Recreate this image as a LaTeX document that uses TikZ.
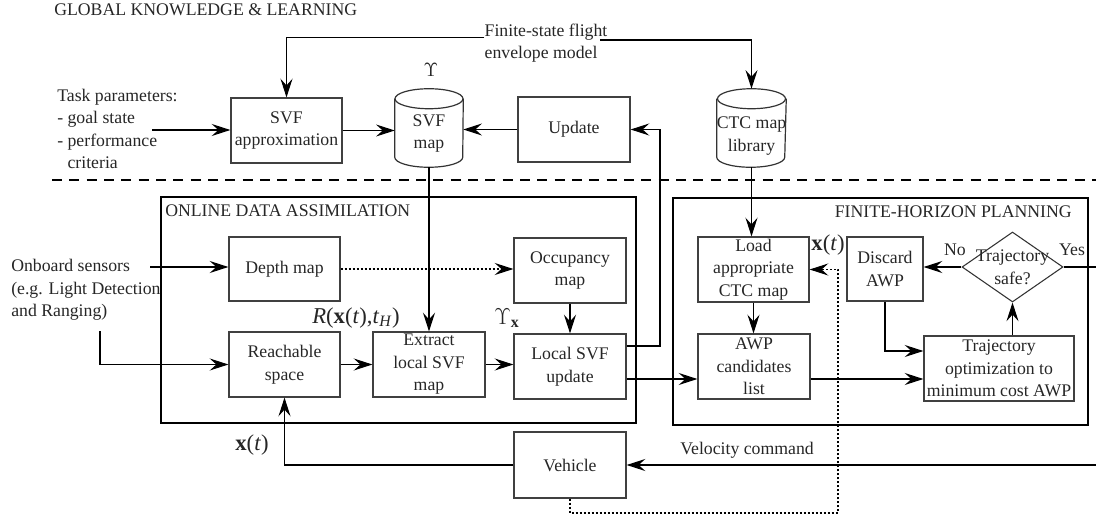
\documentclass[tikz,border=0pt]{standalone}
\usepackage{fontspec}
\setmainfont{Liberation Serif}
\usetikzlibrary{arrows.meta,shapes.geometric,calc}
\newcommand\drawcyl[1]{%
  \draw[line width=0.9pt, draw=black!80] ($(#1.north west)+(0,10)$) -- ($(#1.south west)+(0,-10)$)
     arc[start angle=180, end angle=360, x radius=25.5pt, y radius=7.5pt]
     -- ($(#1.north east)+(0,10)$);
  \draw[line width=0.9pt, draw=black!80] ($(#1.north)+(0,10)$) ellipse [x radius=25.5pt, y radius=7.5pt];}
\newcommand\xt{\textbf{x}(\textit{t})}
\begin{document}
\begin{tikzpicture}[x=0.75pt,y=-0.75pt,
  font=\fontsize{13.3}{16.9}\selectfont,
  txt/.style={text=black!85, inner sep=0pt},
  box/.style={draw=black!75, line width=0.9pt, align=center, inner sep=0pt, text=black!85},
  frm/.style={draw=black, line width=1.6pt},
  arr/.style={-{Stealth[length=14pt,width=9pt,inset=5pt]}, line width=0.8pt},
  dotl/.style={dash pattern=on 1.5pt off 1.5pt},
  big/.style={font=\fontsize{17}{20}\selectfont}]
\useasboundingbox (0,0) rectangle (1096,517);

% titles and separator
\node[txt, anchor=west] (gtitle) at (54,10) {GLOBAL KNOWLEDGE \& LEARNING};
\draw[line width=0.9pt, dash pattern=on 7.5pt off 5.5pt] (52,180) -- (1096,180);

% global part
\node[txt, anchor=west, align=left] (task) at (57,129) {Task parameters:\\- goal state\\- performance\\\hphantom{- }criteria};
\node[box, minimum width=83.25pt, minimum height=48.75pt] (svfa) at (286.5,130.5) {SVF\\approximation};
\node[minimum width=51pt, minimum height=58.5pt, inner sep=0pt,
      label={[txt,align=center,yshift=-4pt]center:SVF\\map}] (svfmap) at (429,128) {};
\drawcyl{svfmap}
\node[txt, font=\fontsize{15.5}{18}\selectfont] (ups) at (431,70) {$\Upsilon$};
\node[box, minimum width=84pt, minimum height=48.75pt] (update) at (574,129.5) {Update};
\node[minimum width=51.75pt, minimum height=58.5pt, inner sep=0pt,
      label={[txt,align=center,yshift=-6pt]center:CTC map\\library}] (ctc) at (751.5,128) {};
\drawcyl{ctc}
\node[txt, align=left] (env) at (546,43) {Finite-state flight\\envelope model};

% frames
\draw[frm] (161,197) rectangle (636,423);
\draw[frm] (673,198) rectangle (1088,425);
\node[txt, anchor=west] (odat) at (165,211) {ONLINE DATA ASSIMILATION};
\node[txt, anchor=east] (fhpt) at (1072,212) {FINITE-HORIZON PLANNING};

% online data assimilation
\node[txt, anchor=west, align=left] (sens) at (11,290) {Onboard sensors\\(e.g. Light Detection\\and Ranging)};
\node[box, minimum width=83.25pt, minimum height=48pt] (depth) at (284.5,269) {Depth map};
\node[box, minimum width=83.25pt, minimum height=48.75pt] (reach) at (284.5,364.5) {Reachable\\space};
\node[box, minimum width=84pt, minimum height=48.75pt] (extract) at (429,364.5) {Extract\\local SVF\\map};
\node[box, minimum width=84pt, minimum height=48.75pt] (occ) at (570,270.5) {Occupancy\\map};
\node[box, minimum width=84pt, minimum height=48.75pt] (local) at (570,366.5) {Local SVF\\update};
\node[txt, big] (rlab) at (356,318) {\textit{R}(\xt,\textit{t}\textsubscript{\textit{H}})};
\node[txt, big] (uxlab) at (507,318) {$\Upsilon_{\mathbf{x}}$};

% finite-horizon planning
\node[box, minimum width=83.25pt, minimum height=48.75pt] (load) at (753.5,269.5) {Load\\appropriate\\CTC map};
\node[box, minimum width=84pt, minimum height=48.75pt] (awp) at (754,366.5) {AWP\\candidates\\list};
\node[box, minimum width=57pt, minimum height=48pt] (discard) at (885,269) {Discard\\AWP};
\node[box, minimum width=112.5pt, minimum height=48.75pt] (traj) at (999,368.5) {Trajectory\\optimization to\\minimum cost AWP};
\node[diamond, draw=black!80, line width=0.8pt, inner sep=0pt, minimum width=75.75pt, minimum height=52.5pt,
      label={[txt,align=center]center:Trajectory\\safe?}] (safe) at (1012.5,267) {};
\node[txt] (nolab) at (955,250) {No};
\node[txt] (yeslab) at (1072,250) {Yes};
\node[txt, big] (xt1) at (828,245) {\xt};

% vehicle
\node[box, minimum width=84pt, minimum height=49.5pt] (vehicle) at (570,465) {Vehicle};
\node[txt, big] (xt2) at (252,445) {\xt};
\node[txt] (vel) at (747,450) {Velocity command};

% connectors
\coordinate (taskout) at (152,130);
\draw[arr] (taskout) -- (taskout -| svfa.west);
\draw[arr] (svfa.east) -- (svfa.east -| svfmap.west);
\draw[arr] (update.west) -- (update.west -| svfmap.east);
\draw[arr] ([yshift=4pt]env.west) -| (svfa.north);
\coordinate (envout) at (600,40);
\draw[arr] (envout) -| (ctc.north);
\draw[arr] (svfmap.south) -- (extract.north);
\draw[arr] (ctc.south) -- (ctc.south |- load.north);
\coordinate (sens1) at (150,267);
\draw[arr] (sens1) -- (sens1 -| depth.west);
\coordinate (sens2) at (100,331);
\draw[arr] (sens2) |- (reach.west);
\draw[arr, dotl] (depth.east) -- (depth.east -| occ.west);
\draw[arr] (occ.south) -- (local.north);
\draw[arr] (reach.east) -- (extract.west);
\draw[arr] (extract.east) -- (extract.east -| local.west);
\coordinate (lo) at ($(local.east)+(0,12.5)$);
\draw[arr] (lo) -- (lo -| awp.west);
\coordinate (lu) at ($(local.east)+(0,-20.5)$);
\coordinate (ret) at (660,129.5);
\draw[arr] (lu) -| (ret) -- (update.east);
\draw[arr] (load.south) -- (load.south |- awp.north);
\coordinate (ao) at ($(awp.east)+(0,12.5)$);
\draw[arr] (ao) -- (ao -| traj.west);
\draw[arr] (safe.south |- traj.north) -- (safe.south);
\draw[arr] (safe.west) -- (safe.west -| discard.east);
\coordinate (di) at ($(traj.west)+(0,-17.5)$);
\draw[arr] (discard.south) |- (di);
\coordinate (offr) at (1130,465);
\draw[arr] (safe.east) -| (offr) -- (offr -| vehicle.east);
\draw[arr] (vehicle.west) -| (reach.south);
\coordinate (dotc) at (838,513);
\draw[arr, dotl] (vehicle.south) |- (dotc) |- (load.east);
\end{tikzpicture}
\end{document}
